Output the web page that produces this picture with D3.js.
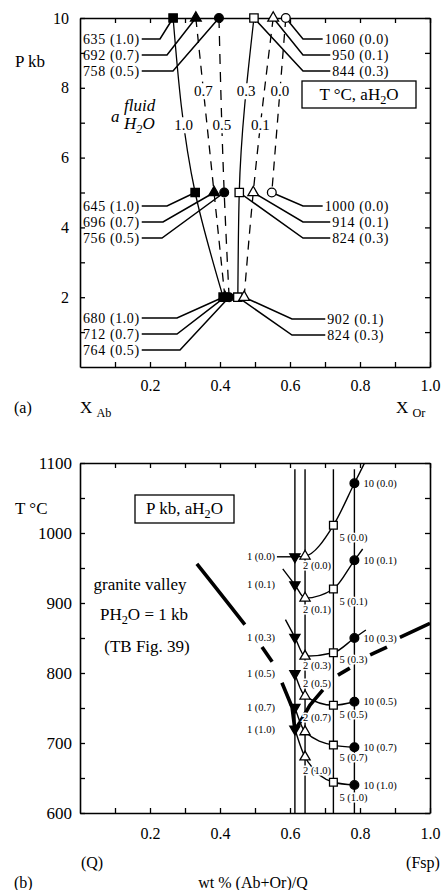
<!DOCTYPE html>
<html>
<head>
<meta charset="utf-8">
<script src="https://cdn.jsdelivr.net/npm/d3@7"></script>
<style>
  body { margin: 0; background: #fff; }
  text { font-family: "Liberation Serif", "Times New Roman", serif; fill: #000; }
</style>
</head>
<body>
<svg id="chart" width="444" height="890"></svg>
<script>
'use strict';

// (a) X Or of the minimum melt at 10, 5 and 2 kb, one entry per water activity
var activitiesA = [1.0, 0.7, 0.5, 0.3, 0.1, 0.0];
var pressuresA = [10, 5, 2];
var xOr10kb = [0.266, 0.331, 0.397, 0.497, 0.552, 0.588];
var xOr5kb = [0.329, 0.383, 0.412, 0.455, 0.495, 0.548];
var xOr2kb = [0.409, 0.414, 0.426, 0.451, 0.469, null];
var temp10kb = [635, 692, 758, 844, 950, 1060];
var temp5kb = [645, 696, 756, 824, 914, 1000];
var temp2kb = [680, 712, 764, 824, 902, null];

// (b) minimum melt temperature against (Ab+Or)/Q
var pressuresB = [1, 2, 5, 10];
var fspRatio = [0.614, 0.643, 0.724, 0.784];
var activitiesB = [0.0, 0.1, 0.3, 0.5, 0.7, 1.0];
var tempAt1kb = [966, 926, 851, 799, 751, 720];
var tempAt2kb = [967, 907, 824, 767, 716, 680];
var tempAt5kb = [1011, 920, 829, 754, 697, 644];
var tempAt10kb = [1071, 961, 850, 759, 694, 640];
var isoplethTopT = 1091;

// granite valley, PH2O = 1 kb (TB Fig. 39), drawn in pieces
var valleyX = [0.334, 0.38, 0.429, 0.471, 0.52, 0.549, 0.577, 0.606, 0.614, 0.629, 0.657, 0.694, 0.737, 0.771, 0.829, 0.877, 0.914, 0.957, 1.0];
var valleyT = [956, 927, 896, 869, 837, 816, 786, 751, 719, 730, 754, 776, 797, 807, 826, 837, 851, 861, 871];
var valleyPiece = [0, 0, 0, 0, 1, 1, 2, 2, 2, 2, 2, 2, 3, 3, 4, 4, 5, 5, 5];

// ---- layout / style (not data) ----
var dashA = [null, '9,7', '10,8', null, '9,7', '9,7'];
var lineLabelY = [125, 91, 125, 91, 125, 91];
var calloutsA = {
  10: {left: [39, 55, 71], leftElbow: [160, 167, 173], right: [39, 55, 71], rightElbow: [303, 303, 303], rightEnd: 389},
  5: {left: [206, 222, 238], leftElbow: [167, 163, 162], right: [206, 222, 238], rightElbow: [303, 303, 303], rightEnd: 389},
  2: {left: [318, 334, 350], leftElbow: [177, 177, 180], right: [319, 335], rightElbow: [292, 292], rightEnd: 384}
};
var extStartB = [0, 20, 20, 0, 0, 0];
var extEndB = [24, 14, 14, 0, 0, 0];
var label2Dy = [12.5, 14.5, 12.5, -9.5, -10.5, 16.5];
var label5Dy = [15.5, 15.5, 10.5, 12.5, 15.5, 18.5];

var svg = d3.select('#chart');

function fmt1(v) {
  return v.toFixed(1);
}

// text with subscripts: parts are strings or {sub: '2'}
function richText(g, x, y, parts, size, anchor, italic) {
  var t = g.append('text')
    .attr('x', x)
    .attr('y', y)
    .attr('font-size', size)
    .attr('text-anchor', anchor || 'start');
  if (italic) {
    t.attr('font-style', 'italic');
  }
  var shifted = false;
  parts.forEach(function (p) {
    if (typeof p === 'string') {
      t.append('tspan').attr('dy', shifted ? -4 : 0).text(p);
      shifted = false;
    } else {
      t.append('tspan').attr('dy', 4).attr('font-size', size * 0.72).text(p.sub);
      shifted = true;
    }
  });
  return t;
}

function drawFrame(g, x, y, yTicks, yLabel, xPad, yPad, yFont) {
  var xTicks = d3.range(1, 11).map(function (i) { return i / 10; });
  var x0 = x.range()[0], x1 = x.range()[1];
  var y0 = y.range()[0], y1 = y.range()[1];

  var bottom = g.append('g')
    .attr('transform', 'translate(0,' + y0 + ')')
    .call(d3.axisBottom(x).tickValues(xTicks).tickSize(-5).tickSizeOuter(0).tickPadding(xPad)
      .tickFormat(function (d) {
        return Math.round(d * 10) % 2 === 0 ? fmt1(d) : '';
      }));
  var top = g.append('g')
    .attr('transform', 'translate(0,' + y1 + ')')
    .call(d3.axisTop(x).tickValues(xTicks).tickSize(-5).tickSizeOuter(0).tickFormat(''));
  var left = g.append('g')
    .attr('transform', 'translate(' + x0 + ',0)')
    .call(d3.axisLeft(y).tickValues(yTicks).tickSize(-5).tickSizeOuter(0).tickPadding(yPad)
      .tickFormat(yLabel));
  var right = g.append('g')
    .attr('transform', 'translate(' + x1 + ',0)')
    .call(d3.axisRight(y).tickValues(yTicks).tickSize(-5).tickSizeOuter(0).tickFormat(''));

  [bottom, top, left, right].forEach(function (a) {
    a.attr('font-family', null);
    a.select('.domain').attr('stroke-width', 1.6);
    a.selectAll('.tick line').attr('stroke-width', 1.3);
  });
  bottom.attr('font-size', 16);
  left.attr('font-size', yFont);
}

function symbolPath(type, size) {
  return d3.symbol().type(type).size(size)();
}

// ================= panel (a) =================
var gA = svg.append('g');
var xA = d3.scaleLinear().domain([0, 1]).range([80, 430]);
var yA = d3.scaleLinear().domain([0, 10]).range([367, 18]);

drawFrame(gA, xA, yA, d3.range(1, 11), function (d) {
  return d % 2 === 0 ? d : '';
}, 13, 11, 16);

var seriesA = activitiesA.map(function (a, i) {
  var cols = [xOr10kb, xOr5kb, xOr2kb];
  var temps = [temp10kb, temp5kb, temp2kb];
  var pts = [];
  pressuresA.forEach(function (p, j) {
    if (cols[j][i] !== null) {
      pts.push({a: a, p: p, x: cols[j][i], t: temps[j][i]});
    }
  });
  return {a: a, i: i, points: pts};
});

var lineA = d3.line()
  .x(function (d) { return xA(d.x); })
  .y(function (d) { return yA(d.p); })
  .curve(d3.curveMonotoneY);

var pathsA = gA.selectAll('path.iso')
  .data(seriesA)
  .enter()
  .append('path')
  .attr('class', 'iso')
  .attr('d', function (d) { return lineA(d.points); })
  .attr('fill', 'none')
  .attr('stroke', '#000')
  .attr('stroke-width', 1.3)
  .attr('stroke-dasharray', function (d) { return dashA[d.i]; });

// activity labels sitting on the lines
pathsA.each(function (d) {
  var node = this;
  var len = node.getTotalLength();
  var target = lineLabelY[d.i];
  var best = null;
  for (var s = 0; s <= len; s += 0.5) {
    var pt = node.getPointAtLength(s);
    if (!best || Math.abs(pt.y - target) < Math.abs(best.y - target)) {
      best = pt;
    }
  }
  var t = gA.append('text')
    .attr('x', best.x)
    .attr('y', target)
    .attr('dy', '0.35em')
    .attr('text-anchor', 'middle')
    .attr('font-size', 15)
    .text(fmt1(d.a));
  var bb = t.node().getBBox();
  gA.insert('rect', function () { return t.node(); })
    .attr('x', bb.x - 1)
    .attr('y', bb.y)
    .attr('width', bb.width + 2)
    .attr('height', bb.height)
    .attr('fill', '#fff');
});

// callouts "T (aH2O)"
function calloutText(x, row, anchor, label) {
  return gA.append('text')
    .attr('x', x)
    .attr('y', row)
    .attr('dy', '0.35em')
    .attr('text-anchor', anchor)
    .attr('font-size', 14)
    .attr('letter-spacing', 0.6)
    .text(label);
}

pressuresA.forEach(function (p) {
  var lay = calloutsA[p];
  [0, 1, 2].forEach(function (i, r) {
    var pt = seriesA[i].points.find(function (d) { return d.p === p; });
    var row = lay.left[r];
    var t = calloutText(83, row, 'start', pt.t + ' (' + fmt1(pt.a) + ')');
    var w = t.node().getBBox().width;
    gA.append('path')
      .attr('d', 'M' + (83 + w + 2) + ',' + row + 'H' + lay.leftElbow[r] + 'L' + xA(pt.x) + ',' + yA(pt.p))
      .attr('fill', 'none')
      .attr('stroke', '#000')
      .attr('stroke-width', 1.5);
  });
  var rightIdx = [5, 4, 3].filter(function (i) {
    return seriesA[i].points.some(function (d) { return d.p === p; });
  });
  rightIdx.forEach(function (i, r) {
    var pt = seriesA[i].points.find(function (d) { return d.p === p; });
    var row = lay.right[r];
    var t = calloutText(lay.rightEnd, row, 'end', pt.t + ' (' + fmt1(pt.a) + ')');
    var bb = t.node().getBBox();
    gA.append('path')
      .attr('d', 'M' + xA(pt.x) + ',' + yA(pt.p) + 'L' + lay.rightElbow[r] + ',' + row + 'H' + (bb.x - 2))
      .attr('fill', 'none')
      .attr('stroke', '#000')
      .attr('stroke-width', 1.5);
  });
});

// markers, one symbol per water activity
var symbolsA = [
  {type: d3.symbolSquare, size: 70, fill: '#000'},
  {type: d3.symbolTriangle, size: 50, fill: '#000'},
  {type: d3.symbolCircle, size: 60, fill: '#000'},
  {type: d3.symbolSquare, size: 70, fill: '#fff'},
  {type: d3.symbolTriangle, size: 50, fill: '#fff'},
  {type: d3.symbolCircle, size: 60, fill: '#fff'}
];
seriesA.forEach(function (s) {
  var sym = symbolsA[s.i];
  gA.selectAll(null)
    .data(s.points)
    .enter()
    .append('path')
    .attr('transform', function (d) { return 'translate(' + xA(d.x) + ',' + yA(d.p) + ')'; })
    .attr('d', symbolPath(sym.type, sym.size))
    .attr('fill', sym.fill)
    .attr('stroke', '#000')
    .attr('stroke-width', 1.3);
});

// panel (a) texts
gA.append('text').attr('x', 15).attr('y', 67).attr('font-size', 17).text('P kb');
gA.append('rect')
  .attr('x', 302).attr('y', 81).attr('width', 114).attr('height', 27)
  .attr('fill', '#fff').attr('stroke', '#000').attr('stroke-width', 1.3);
richText(gA, 359, 100, ['T °C, aH', {sub: '2'}, 'O'], 17, 'middle');
gA.append('text').attr('x', 111).attr('y', 122).attr('font-size', 17)
  .attr('font-style', 'italic').text('a');
gA.append('text').attr('x', 124).attr('y', 111).attr('font-size', 17)
  .attr('font-style', 'italic').text('fluid');
richText(gA, 124, 129, ['H', {sub: '2'}, 'O'], 17, 'start', true);
gA.append('text').attr('x', 14).attr('y', 413).attr('font-size', 16).text('(a)');
richText(gA, 80, 413, ['X ', {sub: 'Ab'}], 17);
richText(gA, 396, 413, ['X ', {sub: 'Or'}], 17);

// ================= panel (b) =================
var gB = svg.append('g');
var xB = d3.scaleLinear().domain([0, 1]).range([80, 430]);
var yB = d3.scaleLinear().domain([600, 1100]).range([813, 463]);

gB.append('clipPath').attr('id', 'clipB')
  .append('rect').attr('x', 80).attr('y', 463).attr('width', 350).attr('height', 350);

drawFrame(gB, xB, yB, d3.range(600, 1101, 50), function (d) {
  return d % 100 === 0 ? d : '';
}, 15, 8, 17);

var plotB = gB.append('g').attr('clip-path', 'url(#clipB)');

// isobaric composition lines
plotB.selectAll('line.iso')
  .data(fspRatio)
  .enter()
  .append('line')
  .attr('x1', function (d) { return xB(d); })
  .attr('x2', function (d) { return xB(d); })
  .attr('y1', yB(isoplethTopT))
  .attr('y2', yB(600))
  .attr('stroke', '#000')
  .attr('stroke-width', 1.4);

// granite valley
var valleyPts = valleyX.map(function (x, k) {
  return {x: x, t: valleyT[k], piece: valleyPiece[k]};
});
var valleyLine = d3.line()
  .x(function (d) { return xB(d.x); })
  .y(function (d) { return yB(d.t); });
plotB.selectAll('path.valley')
  .data(d3.groups(valleyPts, function (d) { return d.piece; }))
  .enter()
  .append('path')
  .attr('class', 'valley')
  .attr('d', function (d) { return valleyLine(d[1]); })
  .attr('fill', 'none')
  .attr('stroke', '#000')
  .attr('stroke-width', 3.6)
  .attr('stroke-linejoin', 'round');

// constant aH2O curves
var tempsB = [tempAt1kb, tempAt2kb, tempAt5kb, tempAt10kb];
var seriesB = activitiesB.map(function (a, i) {
  return {
    a: a,
    i: i,
    points: pressuresB.map(function (p, k) {
      return {a: a, p: p, k: k, x: fspRatio[k], t: tempsB[k][i]};
    })
  };
});

function extend(from, to, len) {
  var dx = to[0] - from[0], dy = to[1] - from[1];
  var n = Math.sqrt(dx * dx + dy * dy);
  return [to[0] + dx / n * len, to[1] + dy / n * len];
}

var curveB = d3.line().curve(d3.curveMonotoneX);
seriesB.forEach(function (s) {
  var px = s.points.map(function (d) { return [xB(d.x), yB(d.t)]; });
  var n = px.length;
  if (extStartB[s.i]) {
    px.unshift(extend(px[1], px[0], extStartB[s.i]));
  }
  if (extEndB[s.i]) {
    n = px.length;
    px.push(extend(px[n - 2], px[n - 1], extEndB[s.i]));
  }
  plotB.append('path')
    .attr('d', curveB(px))
    .attr('fill', 'none')
    .attr('stroke', '#000')
    .attr('stroke-width', 1.4);
});

// leader for 1 (0.0)
var first = seriesB[0].points[0];
plotB.append('line')
  .attr('x1', xB(first.x) - 18).attr('x2', xB(first.x))
  .attr('y1', yB(first.t)).attr('y2', yB(first.t))
  .attr('stroke', '#000').attr('stroke-width', 1.4);

// labels "P (aH2O)"
seriesB.forEach(function (s) {
  s.points.forEach(function (d) {
    var cx = xB(d.x), cy = yB(d.t);
    var t = gB.append('text')
      .attr('font-size', 10.5)
      .attr('stroke', '#fff')
      .attr('stroke-width', 3)
      .attr('paint-order', 'stroke')
      .text(d.p + ' (' + fmt1(d.a) + ')');
    if (d.p === 1) {
      t.attr('x', cx - 20).attr('y', cy).attr('dy', '0.35em').attr('text-anchor', 'end');
    } else if (d.p === 2) {
      t.attr('x', cx - 2).attr('y', cy + label2Dy[s.i]);
    } else if (d.p === 5) {
      t.attr('x', cx + 6).attr('y', cy + label5Dy[s.i]);
    } else {
      t.attr('x', cx + 9).attr('y', cy).attr('dy', '0.35em');
    }
  });
});

// markers by pressure
var symbolsB = [
  {type: d3.symbolTriangle, size: 45, fill: '#000', rotate: 180},
  {type: d3.symbolTriangle, size: 45, fill: '#fff', rotate: 0},
  {type: d3.symbolSquare, size: 60, fill: '#fff', rotate: 0},
  {type: d3.symbolCircle, size: 60, fill: '#000', rotate: 0}
];
seriesB.forEach(function (s) {
  gB.selectAll(null)
    .data(s.points)
    .enter()
    .append('path')
    .attr('transform', function (d) {
      return 'translate(' + xB(d.x) + ',' + yB(d.t) + ') rotate(' + symbolsB[d.k].rotate + ')';
    })
    .attr('d', function (d) { return symbolPath(symbolsB[d.k].type, symbolsB[d.k].size); })
    .attr('fill', function (d) { return symbolsB[d.k].fill; })
    .attr('stroke', '#000')
    .attr('stroke-width', 1.3);
});

// panel (b) texts
gB.append('text').attr('x', 15).attr('y', 514).attr('font-size', 17).text('T °C');
gB.append('rect')
  .attr('x', 135).attr('y', 495).attr('width', 99).attr('height', 28)
  .attr('fill', '#fff').attr('stroke', '#000').attr('stroke-width', 1.3);
richText(gB, 184.5, 514, ['P kb, aH', {sub: '2'}, 'O'], 17, 'middle');
gB.append('text').attr('x', 140).attr('y', 590).attr('font-size', 17)
  .attr('text-anchor', 'middle').text('granite valley');
richText(gB, 144, 620, ['PH', {sub: '2'}, 'O =  1 kb'], 17, 'middle');
gB.append('text').attr('x', 147).attr('y', 652).attr('font-size', 17)
  .attr('text-anchor', 'middle').text('(TB Fig. 39)');
gB.append('text').attr('x', 92).attr('y', 868).attr('font-size', 16)
  .attr('text-anchor', 'middle').text('(Q)');
gB.append('text').attr('x', 423).attr('y', 868).attr('font-size', 16)
  .attr('text-anchor', 'middle').text('(Fsp)');
gB.append('text').attr('x', 14).attr('y', 888).attr('font-size', 16).text('(b)');
gB.append('text').attr('x', 253).attr('y', 888).attr('font-size', 16)
  .attr('text-anchor', 'middle').text('wt % (Ab+Or)/Q');
</script>
</body>
</html>
